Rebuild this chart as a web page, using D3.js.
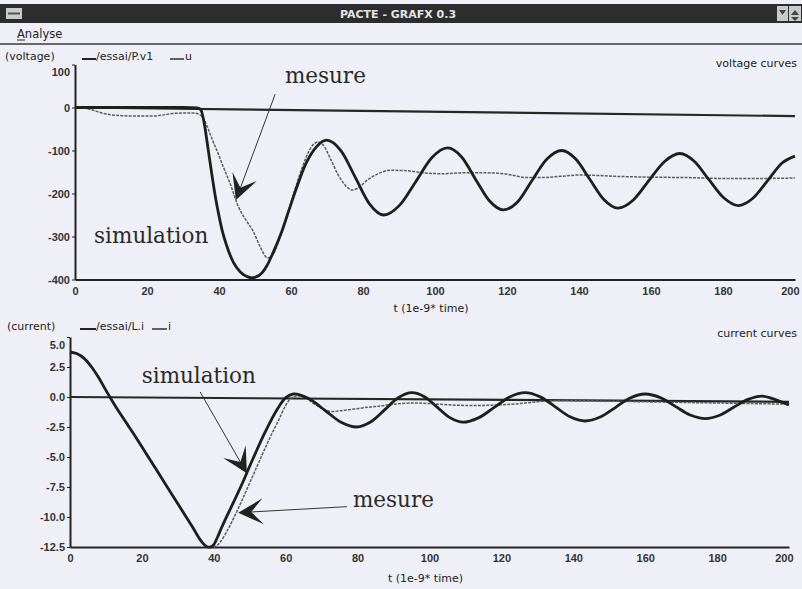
<!DOCTYPE html>
<html><head><meta charset="utf-8">
<script src="https://cdn.jsdelivr.net/npm/d3@7"></script>
<style>body{margin:0;background:#eff0f7;}svg{display:block;}</style>
</head><body>
<svg id="c" width="802" height="589"></svg>
<script>
// ---------- data ----------
const timeTicks = [0,20,40,60,80,100,120,140,160,180,200];
const voltageTicks = [100,0,-100,-200,-300,-400];
const currentTicks = [5,2.5,0,-2.5,-5,-7.5,-10,-12.5];

const refT = [0,200];
const voltageRef = [0,-20];
const currentRef = [0,-0.4];

const voltageSimT = [0,10,20,30,34,35,36,37,38,39,40,41,42,44,46,48,49.1,50,52,53.3,55,57.5,59.5,61.5,64,67,69.9,73.9,77.9,81.8,85.8,90.2,94.7,99.1,103.5,107.4,111.2,115.1,118.9,123,127,131.1,135.2,139.1,143,146.9,150.8,155.1,159.4,163.7,168,172,176.1,180.2,184.2,188.3,192.4,196.4,200];
const voltageSim = [0,0,0,0,-1,-6,-42,-98,-155,-208,-252,-290,-318,-360,-383,-394,-396,-395,-384,-368,-338,-287,-237,-188,-133,-92,-76,-101,-163,-224,-250,-227,-172,-117,-94,-115,-166,-217,-238,-219,-169,-120,-100,-120,-167,-214,-234,-215,-170,-126,-107,-125,-168,-210,-228,-211,-170,-129,-113];

const voltageMesT = [0,2,4,6,8,10,13,17,21,24,27,30,33,34.5,36,37,38.4,40,41.2,43,45.4,47.5,49.5,51.5,53.5,55,57,58.5,60.2,62,64,66,67.5,69,71,73,75,77,79,81,84,87.5,92,97,102,108,114,119,122,125,130,135,140,145,150,160,170,180,190,200];
const voltageMes = [0,-1,-4,-9,-14,-17,-19,-20,-20,-18,-14,-13,-13,-16,-30,-50,-80,-112,-138,-175,-231,-262,-288,-325,-350,-342,-300,-262,-215,-167,-120,-88,-80,-88,-120,-155,-180,-192,-185,-170,-155,-146,-147,-152,-154,-152,-152,-154,-158,-163,-163,-160,-157,-158,-160,-162,-163,-165,-165,-164];

const currentSimT = [0,2,4,6,8,10,12,14,16,18,20,22,24,26,28,30,32,34,36,37,38,39,40,41,42,44,46,48,50,52,54,56,58,60,62.1,66.5,71,75.4,79.8,83.6,87.5,91.3,95.1,98.7,102.2,105.8,109.3,113.6,118,122.3,126.6,130.8,135,139.1,143.3,147.5,151.7,155.8,160,164.2,168.4,172.5,176.7,180.7,184.6,188.6,192.5,196,200];
const currentSim = [3.75,3.6,3.2,2.5,1.6,0.55,-0.45,-1.4,-2.3,-3.2,-4.15,-5.1,-6.05,-7.0,-7.95,-8.9,-9.85,-10.8,-11.8,-12.2,-12.45,-12.5,-12.3,-11.7,-11.0,-9.7,-8.45,-7.15,-5.75,-4.4,-3.1,-1.9,-0.85,-0.05,0.25,-0.15,-1.13,-2.1,-2.5,-2.08,-1.07,-0.06,0.36,0,-0.87,-1.74,-2.1,-1.74,-0.87,0,0.36,0.01,-0.82,-1.65,-2.0,-1.67,-0.88,-0.08,0.25,-0.05,-0.78,-1.5,-1.8,-1.52,-0.86,-0.2,0.08,-0.2,-0.67];

const currentMesT = [0,2,4,6,8,10,12,14,16,18,20,22,24,26,28,30,32,34,36,37,38,39.5,41,42,44,46,48,50,52,54,56,58,60,61.5,63,65,66,68,70,72.3,75,79,83,86.3,90,95,100,105,110,115,120,125,130,135,140,150,160,170,180,190,200];
const currentMes = [3.75,3.6,3.2,2.5,1.6,0.55,-0.45,-1.4,-2.3,-3.2,-4.15,-5.1,-6.05,-7.0,-7.95,-8.9,-9.85,-10.8,-11.8,-12.2,-12.45,-12.55,-12.35,-12.0,-11.0,-9.8,-8.5,-7.15,-5.8,-4.45,-3.15,-1.95,-0.7,-0.1,0.08,0.05,-0.15,-0.6,-0.95,-1.2,-1.15,-1.0,-0.85,-0.75,-0.6,-0.5,-0.55,-0.65,-0.7,-0.7,-0.65,-0.55,-0.4,-0.3,-0.3,-0.35,-0.4,-0.45,-0.5,-0.55,-0.6];

// ---------- drawing ----------
const svg = d3.select('#c');
const BG = '#eff0f7';
svg.append('rect').attr('width',802).attr('height',589).attr('fill',BG);

// window title bar
svg.append('rect').attr('x',0).attr('y',4).attr('width',802).attr('height',19).attr('fill','#2d2d2f');
svg.append('rect').attr('x',6).attr('y',8).attr('width',16).attr('height',11).attr('fill','#c9cad0');
svg.append('line').attr('x1',8).attr('x2',20).attr('y1',13.5).attr('y2',13.5).attr('stroke','#555').attr('stroke-width',2);
svg.append('rect').attr('x',777).attr('y',6).attr('width',11).attr('height',15).attr('fill','#c9cad0');
svg.append('rect').attr('x',789).attr('y',6).attr('width',12).attr('height',15).attr('fill','#c9cad0');
svg.append('path').attr('d','M779,10 L786,10 L782.5,15 Z').attr('fill','#444');
svg.append('path').attr('d','M791,15 L799,15 L795,10 Z M791,17 L799,17 L795,21 Z').attr('fill','#444');
svg.append('text').attr('x',398).attr('y',18).attr('text-anchor','middle')
  .attr('font-family','DejaVu Sans').attr('font-size',11).attr('font-weight','bold')
  .attr('fill','#e4e4e8').text('PACTE - GRAFX 0.3');

// menu
svg.append('text').attr('x',17).attr('y',38).attr('font-family','DejaVu Sans').attr('font-size',11.5)
  .attr('fill','#222').text('Analyse');
svg.append('line').attr('x1',17).attr('x2',25).attr('y1',40).attr('y2',40).attr('stroke','#222').attr('stroke-width',1);
svg.append('line').attr('x1',0).attr('x2',802).attr('y1',44).attr('y2',44).attr('stroke','#3a3a3a').attr('stroke-width',1.6);

const SIM = '#1e1e1e', MES = '#5c5c5c';

function panel(cfg){
  const g = svg.append('g');
  const x = d3.scaleLinear().domain([0,200]).range(cfg.xr);
  const y = d3.scaleLinear().domain(cfg.yd).range(cfg.yr);

  // x axis
  const xa = g.append('g').attr('transform',`translate(0,${cfg.yr[0]})`)
    .call(d3.axisBottom(x).tickValues(timeTicks).tickSize(0).tickPadding(cfg.xpad).tickFormat(d=>String(d)));
  xa.select('.domain').attr('stroke','#222').attr('stroke-width',2);
  xa.selectAll('text').attr('font-family','Liberation Sans').attr('font-size',11).attr('font-weight','bold').attr('fill','#333');
  xa.selectAll('.tick').filter(d=>d===200).select('text').attr('text-anchor','end').attr('dx',4);

  // y axis
  const ya = g.append('g').attr('transform',`translate(${cfg.xr[0]},0)`)
    .call(d3.axisLeft(y).tickValues(cfg.ticks).tickSize(3).tickSizeOuter(0).tickPadding(2).tickFormat(cfg.fmt));
  ya.select('.domain').attr('stroke','#222').attr('stroke-width',2);
  ya.selectAll('line').attr('stroke','#222');
  ya.selectAll('text').attr('font-family','Liberation Sans').attr('font-size',11).attr('font-weight','bold').attr('fill','#333');
  ya.selectAll('.tick').filter(d=>d===cfg.yd[1]).select('text').attr('dy','1em');

  const line = d3.line().x(d=>x(d[0])).y(d=>y(d[1])).curve(cfg.curve);

  // reference zero line
  g.append('path').datum(d3.zip(refT,cfg.ref)).attr('d',d3.line().x(d=>x(d[0])).y(d=>y(d[1])))
    .attr('fill','none').attr('stroke','#262626').attr('stroke-width',2.2);
  // measured
  g.append('path').datum(d3.zip(cfg.mesT,cfg.mes)).attr('d',line)
    .attr('fill','none').attr('stroke',MES).attr('stroke-width',1.5).attr('stroke-dasharray','3,1.2');
  // simulation
  g.append('path').datum(d3.zip(cfg.simT,cfg.sim)).attr('d',line)
    .attr('fill','none').attr('stroke',SIM).attr('stroke-width',2.8).attr('stroke-linejoin','round');

  // labels
  const lab = g.append('g').attr('font-family','DejaVu Sans').attr('font-size',11).attr('fill','#222');
  lab.append('text').attr('x',cfg.lx).attr('y',cfg.ly).text(cfg.name);
  lab.append('line').attr('x1',cfg.l1[0]).attr('x2',cfg.l1[1]).attr('y1',cfg.ly-1).attr('y2',cfg.ly-1).attr('stroke','#222').attr('stroke-width',2);
  lab.append('text').attr('x',cfg.l1[1]).attr('y',cfg.ly).text(cfg.s1);
  lab.append('line').attr('x1',cfg.l2[0]).attr('x2',cfg.l2[1]).attr('y1',cfg.ly-1).attr('y2',cfg.ly-1).attr('stroke','#222').attr('stroke-width',1.4);
  lab.append('text').attr('x',cfg.l2[1]+1).attr('y',cfg.ly).text(cfg.s2);
  lab.append('text').attr('x',797).attr('y',cfg.ty).attr('text-anchor','end').text(cfg.title);
  lab.append('text').attr('x',x(100)-4).attr('y',cfg.xty).attr('text-anchor','middle').text('t (1e-9* time)');

  // annotations
  cfg.notes.forEach(n=>{
    g.append('text').attr('x',x(n.t)).attr('y',y(n.v)).attr('font-family','DejaVu Serif')
      .attr('font-size',21.5).attr('fill','#2a2a2a').text(n.text);
  });
  cfg.arrows.forEach(a=>{
    const x0=x(a.from[0]), y0=y(a.from[1]), x1=x(a.to[0]), y1=y(a.to[1]);
    const dx=x1-x0, dy=y1-y0, L=Math.hypot(dx,dy), ux=dx/L, uy=dy/L, px=-uy, py=ux;
    const back=25, half=13, notch=13;
    g.append('line').attr('x1',x0).attr('y1',y0).attr('x2',x1-ux*notch).attr('y2',y1-uy*notch)
      .attr('stroke','#333').attr('stroke-width',1);
    const p=[[x1,y1],[x1-ux*back+px*half,y1-uy*back+py*half],[x1-ux*notch,y1-uy*notch],[x1-ux*back-px*half,y1-uy*back-py*half]];
    g.append('path').attr('d','M'+p.map(q=>q.join(',')).join('L')+'Z').attr('fill','#222');
  });
}

panel({
  xr:[75,795], yd:[-400,100], yr:[279.5,64.5], ticks:voltageTicks, fmt:d=>String(d), xpad:8,
  curve:d3.curveMonotoneX,
  ref:voltageRef, simT:voltageSimT, sim:voltageSim, mesT:voltageMesT, mes:voltageMes,
  lx:5, ly:60, name:'(voltage)', l1:[82,96], s1:'/essai/P.v1', l2:[170,184], s2:'u',
  title:'voltage curves', ty:67, xty:312,
  notes:[{t:58.3,v:56,text:'mesure'},{t:5.3,v:-314,text:'simulation'}],
  arrows:[{from:[55.6,31],to:[44.7,-215]}]
});

panel({
  xr:[70,789], yd:[-12.5,5], yr:[547,337], ticks:currentTicks, fmt:d=>d.toFixed(1), xpad:7,
  curve:d3.curveCatmullRom.alpha(0.5),
  ref:currentRef, simT:currentSimT, sim:currentSim, mesT:currentMesT, mes:currentMes,
  lx:7, ly:330, name:'(current)', l1:[80,96], s1:'/essai/L.i', l2:[152,167], s2:'i',
  title:'current curves', ty:337, xty:582,
  notes:[{t:19.95,v:1.14,text:'simulation'},{t:78.7,v:-9.14,text:'mesure'}],
  arrows:[{from:[36.2,0.42],to:[49.2,-6.36]},{from:[77,-9.14],to:[46.8,-9.64]}]
});
</script>
</body></html>
